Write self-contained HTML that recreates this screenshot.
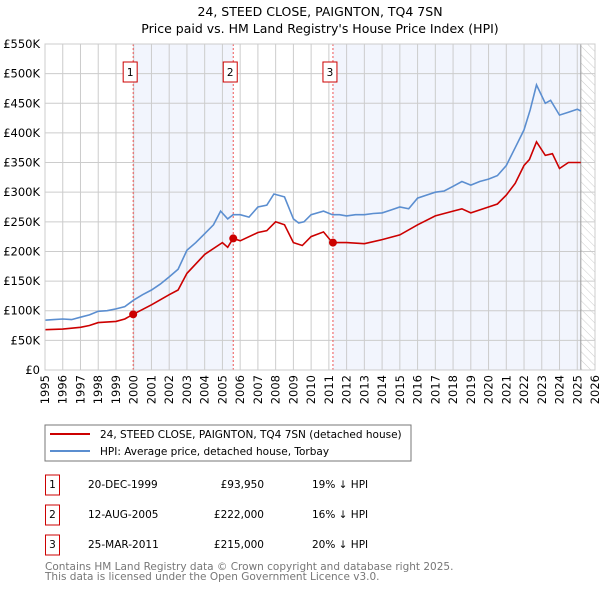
<!DOCTYPE html>
<html><head><meta charset="utf-8"><style>
body{margin:0;background:#fff;font-family:"Liberation Sans","DejaVu Sans",sans-serif;}
svg text{font-family:"DejaVu Sans","Liberation Sans",sans-serif;}
</style></head><body>
<svg id="chart" width="600" height="590" xmlns="http://www.w3.org/2000/svg">
<defs><pattern id="hatch" width="6" height="6" patternUnits="userSpaceOnUse" patternTransform="rotate(-45)"><line x1="0" y1="0" x2="0" y2="6" stroke="#ccc" stroke-width="1"/></pattern></defs>
<text x="320" y="16" text-anchor="middle" font-size="12.5">24, STEED CLOSE, PAIGNTON, TQ4 7SN</text>
<text x="320" y="33" text-anchor="middle" font-size="12.5">Price paid vs. HM Land Registry's House Price Index (HPI)</text>
<g id="plot"></g>
<rect x="45" y="425" width="366" height="36" fill="#fff" stroke="#777"/>
<line x1="50" y1="434" x2="90" y2="434" stroke="#cc0000" stroke-width="2"/>
<text x="100" y="438" font-size="10.5">24, STEED CLOSE, PAIGNTON, TQ4 7SN (detached house)</text>
<line x1="50" y1="451" x2="90" y2="451" stroke="#5b8ed0" stroke-width="2"/>
<text x="100" y="455" font-size="10.5">HPI: Average price, detached house, Torbay</text>
<g font-size="10.5">
<rect x="45.5" y="475" width="14" height="20" fill="#fff" stroke="#cc0000"/><text x="52.5" y="488" text-anchor="middle">1</text>
<text x="88" y="488">20-DEC-1999</text><text x="264" y="488" text-anchor="end">£93,950</text><text x="312" y="488">19% ↓ HPI</text>
<rect x="45.5" y="505" width="14" height="20" fill="#fff" stroke="#cc0000"/><text x="52.5" y="518" text-anchor="middle">2</text>
<text x="88" y="518">12-AUG-2005</text><text x="264" y="518" text-anchor="end">£222,000</text><text x="312" y="518">16% ↓ HPI</text>
<rect x="45.5" y="535" width="14" height="20" fill="#fff" stroke="#cc0000"/><text x="52.5" y="548" text-anchor="middle">3</text>
<text x="88" y="548">25-MAR-2011</text><text x="264" y="548" text-anchor="end">£215,000</text><text x="312" y="548">20% ↓ HPI</text>
</g>
<text x="45" y="570" font-size="10.5" fill="#777">Contains HM Land Registry data © Crown copyright and database right 2025.</text>
<text x="45" y="580" font-size="10.5" fill="#777">This data is licensed under the Open Government Licence v3.0.</text>
</svg>
<script>
const yearTicks=[1995,1996,1997,1998,1999,2000,2001,2002,2003,2004,2005,2006,2007,2008,2009,2010,2011,2012,2013,2014,2015,2016,2017,2018,2019,2020,2021,2022,2023,2024,2025,2026];
const valueTicks=[0,50000,100000,150000,200000,250000,300000,350000,400000,450000,500000,550000];
const valueTickLabels=["£0","£50K","£100K","£150K","£200K","£250K","£300K","£350K","£400K","£450K","£500K","£550K"];
const hpiYears=[1995,1995.5,1996,1996.5,1997,1997.5,1998,1998.5,1999,1999.5,2000,2000.5,2001,2001.5,2002,2002.5,2003,2003.5,2004,2004.5,2004.9,2005.3,2005.6,2006,2006.5,2007,2007.5,2007.9,2008.5,2009,2009.3,2009.6,2010,2010.7,2011.2,2011.6,2012,2012.5,2013,2013.5,2014,2014.5,2015,2015.5,2016,2016.5,2017,2017.5,2018,2018.5,2019,2019.5,2020,2020.5,2021,2021.5,2022,2022.35,2022.7,2023.2,2023.5,2024,2024.5,2025,2025.2];
const hpiValues=[84000,85000,86000,85000,89000,93000,99000,100000,103000,107000,118000,127000,135000,145000,157000,170000,202000,215000,230000,245000,268000,255000,262000,262000,258000,275000,278000,297000,292000,255000,248000,250000,262000,268000,262000,262000,260000,262000,262000,264000,265000,270000,275000,272000,290000,295000,300000,302000,310000,318000,312000,318000,322000,328000,345000,375000,405000,439000,481000,450000,455000,430000,435000,440000,437000];
const propYears=[1995,1996,1997,1997.5,1998,1999,1999.5,1999.97,2001,2002,2002.5,2003,2004,2005,2005.3,2005.6,2006,2007,2007.5,2008,2008.5,2009,2009.5,2010,2010.7,2011.2,2012,2013,2014,2015,2016,2017,2018,2018.5,2019,2020,2020.5,2021,2021.5,2022,2022.3,2022.7,2023.2,2023.6,2024,2024.5,2025.2];
const propValues=[68000,69000,72000,75000,80000,82000,86000,93950,110000,127000,135000,163000,195000,215000,207000,222000,218000,232000,235000,250000,245000,215000,210000,225000,233000,215000,215000,213000,220000,228000,245000,260000,268000,272000,265000,275000,280000,295000,315000,345000,355000,385000,362000,365000,340000,350000,350000];
const saleYears=[1999.97,2005.61,2011.23];
const salePrices=[93950,222000,215000];
const saleLabels=["1","2","3"];
const X0=45,X1=595,Y0=370,Y1=44,xMin=1995,xMax=2026,yMax=550000,dataEnd=2025.2;
const sx=v=>X0+(v-xMin)/(xMax-xMin)*(X1-X0);
const sy=v=>Y0-v/yMax*(Y0-Y1);
const NS="http://www.w3.org/2000/svg";
const g=document.getElementById('plot');
function mk(t,a,p){const e=document.createElementNS(NS,t);for(const k in a)e.setAttribute(k,a[k]);(p||g).appendChild(e);return e;}
let s=mk('rect',{x:sx(saleYears[0]),y:Y1,width:sx(saleYears[1])-sx(saleYears[0]),height:Y0-Y1,fill:'#f2f5fd'});


s=mk('rect',{x:sx(saleYears[2]),y:Y1,width:sx(dataEnd)-sx(saleYears[2]),height:Y0-Y1,fill:'#f2f5fd'});


s=mk('rect',{x:sx(dataEnd),y:Y1,width:X1-sx(dataEnd),height:Y0-Y1,fill:'url(#hatch)'});


yearTicks.forEach(y=>{const l=mk('line',{x1:sx(y),x2:sx(y),y1:Y1,y2:Y0,stroke:'#ccc','stroke-width':1});


const t=mk('text',{x:0,y:0,'font-size':11.5,'text-anchor':'end',transform:`translate(${sx(y)+4},${Y0+5}) rotate(-90)`});t.textContent=y;

});
valueTicks.forEach((v,i)=>{const l=mk('line',{x1:X0,x2:X1,y1:sy(v),y2:sy(v),stroke:'#ccc','stroke-width':1});


const t=mk('text',{x:40,y:sy(v)+4,'font-size':11.5,'text-anchor':'end'});t.textContent=valueTickLabels[i];

});
let l=mk('line',{x1:sx(dataEnd),x2:sx(dataEnd),y1:Y1,y2:Y0,stroke:'#999','stroke-width':1});


saleYears.forEach((y,i)=>{const v=mk('line',{x1:sx(y),x2:sx(y),y1:Y1,y2:Y0,stroke:'#ee5555','stroke-width':1,'stroke-dasharray':'2,2'});

});
const pts=(xs,ys)=>xs.map((x,i)=>sx(x).toFixed(1)+','+sy(ys[i]).toFixed(1)).join(' ');
let p=mk('polyline',{points:pts(hpiYears,hpiValues),fill:'none',stroke:'#5b8ed0','stroke-width':1.6});


p=mk('polyline',{points:pts(propYears,propValues),fill:'none',stroke:'#cc0000','stroke-width':1.6});


saleYears.forEach((y,i)=>{const d=mk('circle',{cx:sx(y),cy:sy(salePrices[i]),r:4,fill:'#cc0000'});


const b=mk('rect',{x:sx(y)-10,y:62,width:14,height:20,fill:'#fff',stroke:'#cc0000'});


const t=mk('text',{x:sx(y)-3,y:76,'font-size':10.5,'text-anchor':'middle'});t.textContent=saleLabels[i];

});
l=mk('rect',{x:X0,y:Y1,width:X1-X0,height:Y0-Y1,fill:'none',stroke:'#ccc'});


</script>
</body></html>
